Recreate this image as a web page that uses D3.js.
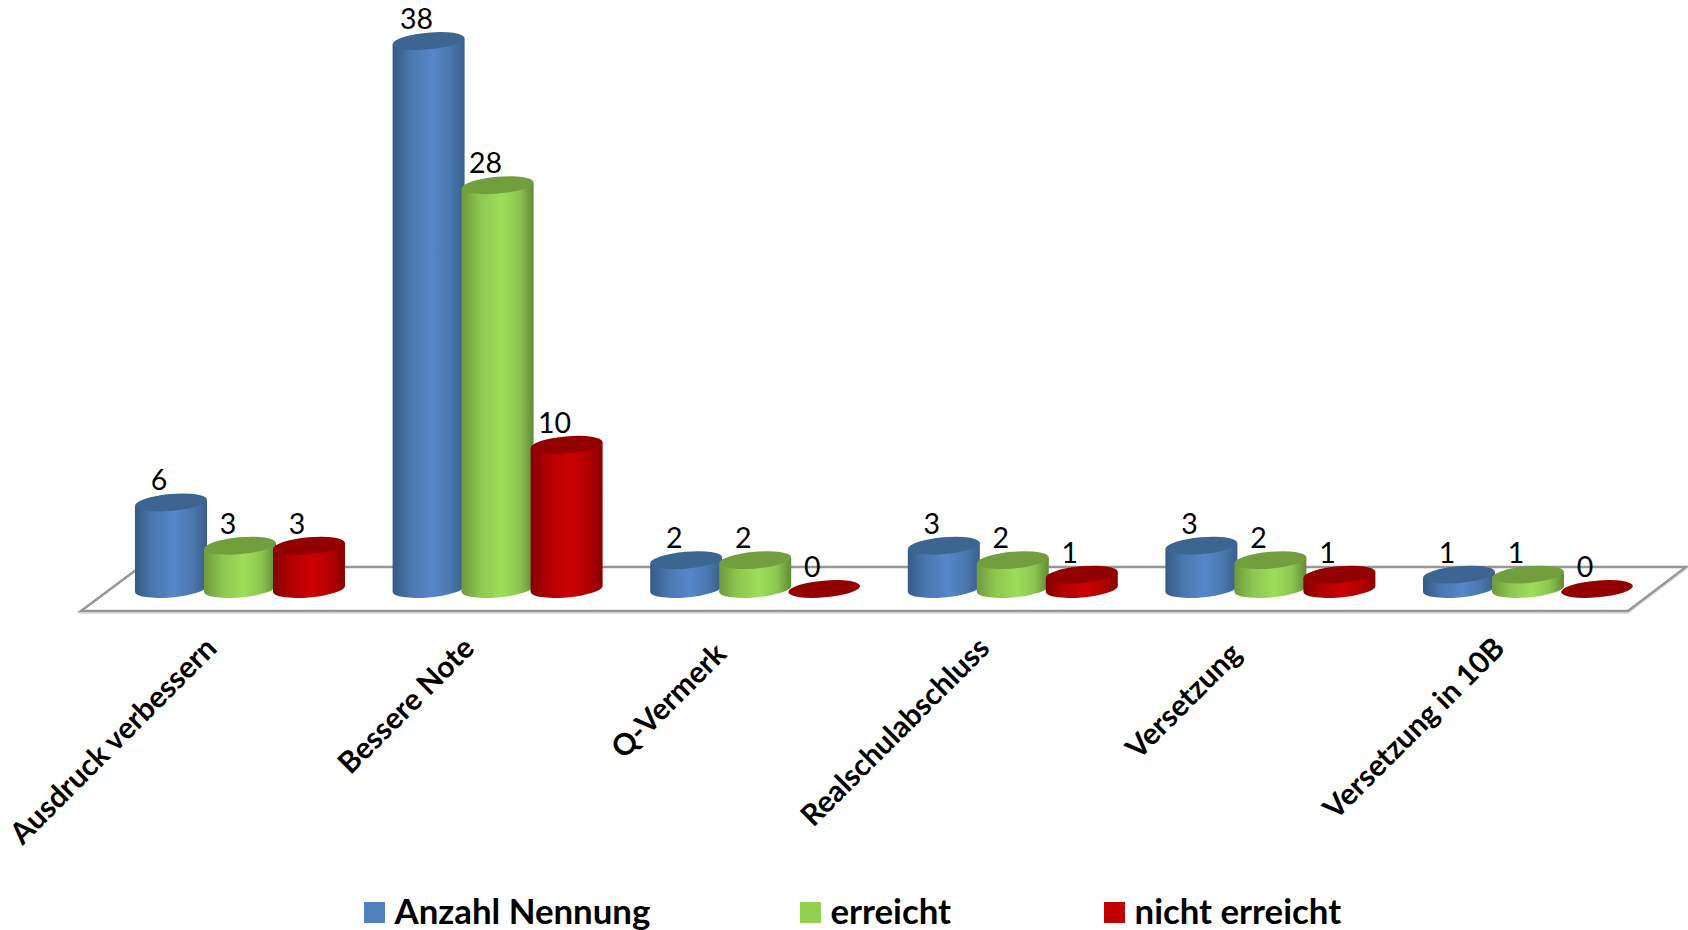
<!DOCTYPE html>
<html>
<head>
<meta charset="utf-8">
<style>
    body { margin: 0; background: #fff; }
    text { font-family: Lato, "Open Sans", sans-serif; fill: #000; }
    .label { font-size: 28.5px; text-anchor: middle; }
    .cat text { font-size: 29.8px; font-weight: 700; text-anchor: end; }
    .legendText { font-size: 34.8px; font-weight: 700; }
</style>
<script src="https://cdn.jsdelivr.net/npm/d3@7"></script>
</head>
<body>
<svg id="chart" width="1688" height="930"></svg>
<script>
var categories = ["Ausdruck verbessern", "Bessere Note", "Q-Vermerk", "Realschulabschluss", "Versetzung", "Versetzung in 10B"];
var seriesNames = ["Anzahl Nennung", "erreicht", "nicht erreicht"];
var anzahl = [6, 38, 2, 3, 3, 1];
var erreicht = [3, 28, 2, 2, 2, 1];
var nichtErreicht = [3, 10, 0, 1, 1, 0];
var seriesValues = [anzahl, erreicht, nichtErreicht];
var legendColors = ["#4f81bd", "#92d050", "#c00000"];
var topColors = ["#3d6592", "#729f3e", "#930000"];
var sideStops = [
    ["#365a85", "#4a77ae", "#5587cb", "#4a77ae", "#3a5f8c"],
    ["#6d9a3c", "#8cc650", "#9ede5a", "#8cc650", "#628a36"],
    ["#850000", "#b20000", "#cc0000", "#b20000", "#8a0000"]
];
var legendX = [364, 800, 1104];

var svg = d3.select("#chart");
var groupX = d3.scalePoint().domain(categories).range([240, 1528]);
var seriesX = d3.scalePoint().domain(seriesNames).range([-69, 69]);
var y = d3.scaleLinear().domain([0, 38]).range([589, 41]);

// ellipse of the cylinder caps, slightly tilted
var rx = 36, ry = 8.4, tilt = -5, halfW = 36, tipY = 3;

var defs = svg.append("defs");
seriesNames.forEach(function (s, i) {
    var grad = defs.append("linearGradient").attr("id", "side" + i);
    sideStops[i].forEach(function (c, k) {
        grad.append("stop").attr("offset", [0, 0.25, 0.55, 0.8, 1][k]).attr("stop-color", c);
    });
});

// floor
var floorPts = [[81, 611], [1628, 611], [1686, 567], [140, 567]];
var floorLine = d3.line().curve(d3.curveLinearClosed);
svg.append("path").attr("d", floorLine(floorPts)).attr("transform", "translate(0,1.5)")
    .attr("fill", "none").attr("stroke", "#e2e2e2").attr("stroke-width", 3);
svg.append("path").attr("d", floorLine(floorPts))
    .attr("fill", "#fff").attr("stroke", "#969696").attr("stroke-width", 2.5);

// cylinders, series drawn left to right so the later one overlaps
categories.forEach(function (cat, c) {
    seriesNames.forEach(function (s, i) {
        var v = seriesValues[i][c];
        var cx = groupX(cat) + seriesX(s);
        var top = y(v), base = y(0);
        var g = svg.append("g").attr("class", "bar");
        if (v > 0) {
            g.append("path")
                .attr("fill", "url(#side" + i + ")")
                .attr("d", "M" + (cx - halfW) + "," + (top + tipY) +
                    "L" + (cx - halfW) + "," + (base + tipY) +
                    "A" + rx + "," + ry + " " + tilt + " 0 0 " + (cx + halfW) + "," + (base - tipY) +
                    "L" + (cx + halfW) + "," + (top - tipY) + "Z");
        }
        g.append("ellipse")
            .attr("rx", rx).attr("ry", ry)
            .attr("transform", "translate(" + cx + "," + top + ") rotate(" + tilt + ")")
            .attr("fill", topColors[i]);
    });
});

// value labels
categories.forEach(function (cat, c) {
    seriesNames.forEach(function (s, i) {
        var v = seriesValues[i][c];
        svg.append("text").attr("class", "label")
            .attr("x", groupX(cat) + seriesX(s) - 12)
            .attr("y", y(v) - 12)
            .text(v);
    });
});

// category axis, labels at 45 degrees
var xAxis = d3.axisBottom(groupX).tickSize(0).tickPadding(0);
var axisG = svg.append("g").attr("class", "cat").attr("transform", "translate(0,650)").call(xAxis);
axisG.select(".domain").remove();
axisG.selectAll("text")
    .attr("x", 0).attr("y", 0).attr("dy", 0)
    // these two sit a bit further down their slant in the original
    .attr("dx", function (d) { return (d == "Q-Vermerk" || d == "Versetzung") ? -8 : 0; })
    .attr("transform", "translate(-22,0) rotate(-45)");

// legend
seriesNames.forEach(function (s, i) {
    svg.append("rect").attr("x", legendX[i]).attr("y", 902).attr("width", 21).attr("height", 21)
        .attr("fill", legendColors[i]);
    svg.append("text").attr("class", "legendText")
        .attr("x", legendX[i] + 30.5).attr("y", 924).text(s);
});
</script>
</body>
</html>
